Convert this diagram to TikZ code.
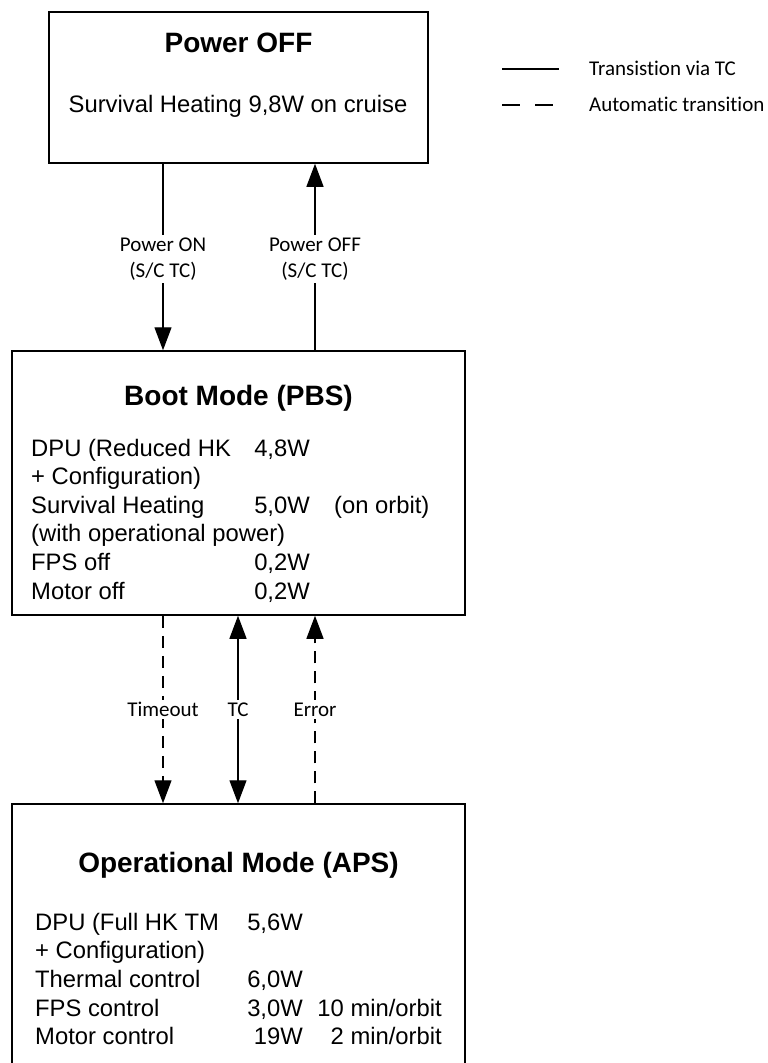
\documentclass[tikz,border=0pt]{standalone}
\usepackage{fontspec}
\setmainfont{Liberation Sans}
\newfontfamily\lblfont[Ligatures=NoCommon]{Carlito}
\usetikzlibrary{arrows.meta}
\tikzset{
  box/.style={draw, line width=1.5pt, rectangle, inner sep=0pt},
  ttl/.style={font=\bfseries\fontsize{28}{34}\selectfont, inner sep=0pt},
  body/.style={font=\fontsize{23.8}{28.6}\selectfont, inner sep=0pt},
  lbl/.style={font=\lblfont\fontsize{21}{25.5}\selectfont, fill=white, inner sep=2.5pt, align=center},
  legtxt/.style={font=\lblfont\fontsize{21}{25.5}\selectfont, inner sep=0pt},
  tip/.tip={Triangle[length=23pt,width=17pt]},
  arr/.style={line width=1.3pt, -tip},
  dsh/.style={dash pattern=on 12pt off 8pt},
  legline/.style={line width=1.3pt}
}
\begin{document}
\begin{tikzpicture}[x=1pt,y=-1pt]
\useasboundingbox (0,0) rectangle (768,1063);
\clip (0,0) rectangle (768,1063);
% boxes
\node[box, minimum width=379pt, minimum height=151pt] (off) at (238.5,87.5) {};
\node[box, minimum width=453pt, minimum height=264pt] (boot) at (238.5,483) {};
\node[box, minimum width=453pt, minimum height=300pt] (op) at (238.5,954) {};
% Power OFF box
\node[ttl, anchor=base] (offT) at (238.5,52) {Power OFF};
\node[body, anchor=base] (offB) at (238,112) {Survival Heating 9,8W on cruise};
% Boot box
\node[ttl, anchor=base] (bootT) at (238.5,405.5) {Boot Mode (PBS)};
\node[body, anchor=base west] (b1) at (31,456) {DPU (Reduced HK};
\node[body, anchor=base east] (b1v) at (310,456) {4,8W};
\node[body, anchor=base west] (b2) at (31,484.6) {+ Configuration)};
\node[body, anchor=base west] (b3) at (31,513.2) {Survival Heating};
\node[body, anchor=base east] (b3v) at (310,513.2) {5,0W};
\node[body, anchor=base west] (b3o) at (334,513.2) {(on orbit)};
\node[body, anchor=base west] (b4) at (31,541.8) {(with operational power)};
\node[body, anchor=base west] (b5) at (31,570.4) {FPS off};
\node[body, anchor=base east] (b5v) at (310,570.4) {0,2W};
\node[body, anchor=base west] (b6) at (31,599) {Motor off};
\node[body, anchor=base east] (b6v) at (310,599) {0,2W};
% Operational box
\node[ttl, anchor=base] (opT) at (238.5,872.5) {Operational Mode (APS)};
\node[body, anchor=base west] (o1) at (35,930) {DPU (Full HK TM};
\node[body, anchor=base east] (o1v) at (303,930) {5,6W};
\node[body, anchor=base west] (o2) at (35,958.7) {+ Configuration)};
\node[body, anchor=base west] (o3) at (35,987.3) {Thermal control};
\node[body, anchor=base east] (o3v) at (303,987.3) {6,0W};
\node[body, anchor=base west] (o4) at (35,1016) {FPS control};
\node[body, anchor=base east] (o4v) at (303,1016) {3,0W};
\node[body, anchor=base east] (o4t) at (442,1016) {10 min/orbit};
\node[body, anchor=base west] (o5) at (35,1044.7) {Motor control};
\node[body, anchor=base east] (o5v) at (303,1044.7) {19W};
\node[body, anchor=base east] (o5t) at (442,1044.7) {2 min/orbit};
% connector columns
\coordinate (xa) at (163,0);
\coordinate (xb) at (315,0);
\coordinate (xc) at (238,0);
\draw[arr] (off.south -| xa) -- node[lbl, yshift=-2pt] (lon) {Power ON\\(S/C TC)} (boot.north -| xa);
\draw[arr] (boot.north -| xb) -- node[lbl, yshift=-2pt] (loff) {Power OFF\\(S/C TC)} (off.south -| xb);
\draw[arr, dsh] (boot.south -| xa) -- node[lbl] (lto) {Timeout} (op.north -| xa);
\draw[line width=1.3pt, tip-tip] (boot.south -| xc) -- node[lbl] (ltc) {TC} (op.north -| xc);
\draw[arr, dsh] (op.north -| xb) -- node[lbl] (ler) {Error} (boot.south -| xb);
% legend
\coordinate (l1a) at (502,69);
\coordinate (l1b) at (559,69);
\coordinate (l2a) at (502,105);
\coordinate (l2b) at (553,105);
\draw[legline] (l1a) -- (l1b);
\draw[legline, dash pattern=on 18pt off 15pt] (l2a) -- (l2b);
\node[legtxt, anchor=base west] (lt1) at (589,75) {Transistion via TC};
\node[legtxt, anchor=base west] (lt2) at (589,111) {Automatic transition};
\end{tikzpicture}
\end{document}
